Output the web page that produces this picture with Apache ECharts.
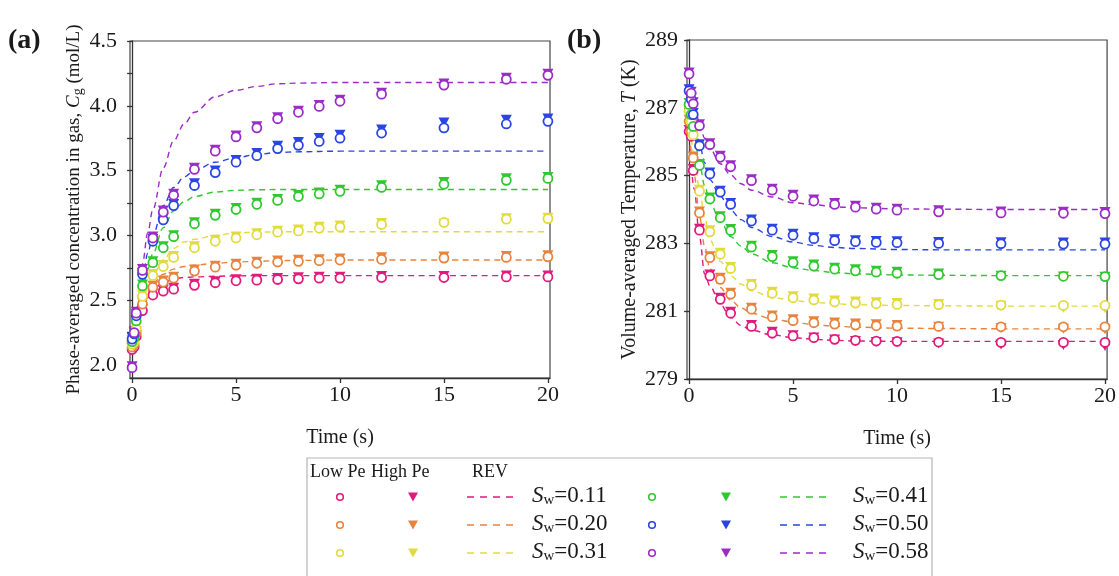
<!DOCTYPE html>
<html>
<head>
<meta charset="utf-8">
<script src="https://cdn.jsdelivr.net/npm/echarts@6/dist/echarts.min.js"></script>
<style>
html,body{margin:0;padding:0;background:#fff;}
#chart{width:1119px;height:576px;}
</style>
</head>
<body>
<div id="chart"></div>
<script>
// ---------------- DATA ----------------
const swLabels = ['0.11', '0.20', '0.31', '0.41', '0.50', '0.58'];
const colors = ['#e3197c', '#e8833d', '#e2db3e', '#30c830', '#2b45e4', '#9b2cc6'];

const timeSim = [0, 0.1, 0.2, 0.5, 1, 1.5, 2, 3, 4, 5, 6, 7, 8, 9, 10, 12, 15, 18, 20];
const timeRev = [0, 0.25, 0.5, 0.75, 1, 1.5, 2, 2.5, 3, 4, 5, 6, 7, 8, 10, 12, 15, 20];

// (a) concentration, Low Pe
const concLow011 = [2.12, 2.14, 2.22, 2.42, 2.54, 2.57, 2.585, 2.615, 2.635, 2.65, 2.655, 2.66, 2.665, 2.67, 2.67, 2.675, 2.675, 2.68, 2.68];
const concLow020 = [2.14, 2.16, 2.25, 2.47, 2.60, 2.64, 2.67, 2.725, 2.755, 2.77, 2.785, 2.795, 2.80, 2.805, 2.81, 2.815, 2.825, 2.83, 2.835];
const concLow031 = [2.16, 2.18, 2.28, 2.53, 2.69, 2.76, 2.83, 2.905, 2.955, 2.98, 3.005, 3.025, 3.035, 3.055, 3.065, 3.085, 3.10, 3.125, 3.13];
const concLow041 = [2.18, 2.21, 2.34, 2.61, 2.79, 2.905, 2.99, 3.09, 3.155, 3.20, 3.24, 3.27, 3.30, 3.32, 3.34, 3.37, 3.395, 3.425, 3.44];
const concLow050 = [2.20, 2.24, 2.38, 2.70, 2.955, 3.12, 3.23, 3.385, 3.485, 3.565, 3.615, 3.67, 3.695, 3.725, 3.75, 3.79, 3.83, 3.86, 3.88];
const concLow058 = [1.98, 2.25, 2.40, 2.73, 2.98, 3.18, 3.31, 3.51, 3.65, 3.76, 3.83, 3.90, 3.95, 3.995, 4.035, 4.09, 4.16, 4.205, 4.235];
// (a) concentration, High Pe
const concHigh011 = [2.12, 2.15, 2.22, 2.42, 2.54, 2.57, 2.585, 2.615, 2.635, 2.65, 2.655, 2.66, 2.665, 2.67, 2.67, 2.675, 2.675, 2.68, 2.68];
const concHigh020 = [2.14, 2.16, 2.25, 2.47, 2.60, 2.64, 2.67, 2.725, 2.755, 2.77, 2.785, 2.795, 2.80, 2.805, 2.81, 2.82, 2.825, 2.83, 2.835];
const concHigh031 = [2.16, 2.18, 2.28, 2.53, 2.69, 2.76, 2.83, 2.905, 2.955, 2.98, 3.005, 3.025, 3.035, 3.055, 3.065, 3.085, 3.08, 3.12, 3.125];
const concHigh041 = [2.18, 2.21, 2.34, 2.61, 2.79, 2.905, 2.99, 3.09, 3.155, 3.20, 3.24, 3.27, 3.30, 3.32, 3.34, 3.375, 3.40, 3.43, 3.44];
const concHigh050 = [2.20, 2.24, 2.38, 2.70, 2.96, 3.12, 3.23, 3.39, 3.49, 3.57, 3.625, 3.68, 3.71, 3.74, 3.765, 3.805, 3.86, 3.88, 3.89];
const concHigh058 = [1.98, 2.25, 2.40, 2.73, 2.98, 3.18, 3.31, 3.51, 3.65, 3.76, 3.83, 3.90, 3.95, 3.995, 4.035, 4.09, 4.16, 4.205, 4.235];
// (a) concentration, REV
const concRev011 = [2.10, 2.28, 2.42, 2.52, 2.58, 2.635, 2.665, 2.675, 2.68, 2.685, 2.688, 2.69, 2.69, 2.69, 2.69, 2.69, 2.69, 2.69];
const concRev020 = [2.10, 2.30, 2.45, 2.56, 2.63, 2.70, 2.74, 2.76, 2.77, 2.785, 2.795, 2.80, 2.805, 2.807, 2.81, 2.81, 2.81, 2.81];
const concRev031 = [2.10, 2.33, 2.50, 2.62, 2.70, 2.81, 2.90, 2.95, 2.97, 3.00, 3.02, 3.025, 3.028, 3.028, 3.028, 3.028, 3.028, 3.028];
const concRev041 = [2.10, 2.36, 2.58, 2.74, 2.86, 3.06, 3.19, 3.26, 3.30, 3.335, 3.348, 3.352, 3.354, 3.354, 3.354, 3.354, 3.354, 3.354];
const concRev050 = [2.10, 2.40, 2.66, 2.86, 3.00, 3.23, 3.37, 3.45, 3.50, 3.565, 3.60, 3.625, 3.64, 3.645, 3.65, 3.65, 3.65, 3.65];
const concRev058 = [2.10, 2.45, 2.78, 3.02, 3.20, 3.52, 3.73, 3.86, 3.95, 4.07, 4.12, 4.15, 4.17, 4.175, 4.18, 4.18, 4.18, 4.18];

// (b) temperature, Low Pe
const tempLow011 = [286.3, 286.16, 285.15, 283.39, 282.04, 281.35, 280.94, 280.55, 280.35, 280.27, 280.22, 280.17, 280.14, 280.12, 280.11, 280.09, 280.08, 280.08, 280.08];
const tempLow020 = [286.6, 286.3, 285.52, 283.90, 282.58, 281.94, 281.50, 281.06, 280.83, 280.72, 280.66, 280.62, 280.59, 280.57, 280.56, 280.55, 280.54, 280.54, 280.54];
const tempLow031 = [286.9, 286.6, 286.2, 284.54, 283.34, 282.68, 282.26, 281.76, 281.53, 281.40, 281.33, 281.27, 281.24, 281.22, 281.20, 281.19, 281.18, 281.17, 281.17];
const tempLow041 = [287.1, 286.8, 286.45, 285.30, 284.31, 283.76, 283.38, 282.89, 282.61, 282.43, 282.33, 282.24, 282.19, 282.15, 282.12, 282.08, 282.05, 282.03, 282.02];
const tempLow050 = [287.5, 287.25, 286.8, 285.88, 285.05, 284.51, 284.15, 283.66, 283.39, 283.24, 283.14, 283.08, 283.05, 283.03, 283.02, 283.00, 282.99, 282.98, 282.98];
const tempLow058 = [288.0, 287.43, 287.12, 286.47, 285.91, 285.54, 285.26, 284.85, 284.57, 284.39, 284.25, 284.15, 284.07, 284.01, 283.98, 283.93, 283.90, 283.89, 283.88];
// (b) temperature, High Pe
const tempHigh011 = [286.3, 286.16, 285.15, 283.39, 282.04, 281.35, 280.94, 280.55, 280.35, 280.25, 280.18, 280.12, 280.08, 280.05, 280.04, 280.00, 279.97, 279.96, 279.93];
const tempHigh020 = [286.6, 286.3, 285.52, 283.90, 282.58, 281.94, 281.50, 281.06, 280.83, 280.72, 280.66, 280.62, 280.59, 280.57, 280.55, 280.50, 280.46, 280.44, 280.42];
const tempHigh031 = [286.9, 286.6, 286.2, 284.54, 283.34, 282.68, 282.26, 281.76, 281.53, 281.40, 281.33, 281.27, 281.24, 281.22, 281.20, 281.17, 281.12, 281.06, 281.04];
const tempHigh041 = [287.1, 286.8, 286.45, 285.30, 284.31, 283.76, 283.38, 282.89, 282.61, 282.43, 282.33, 282.24, 282.19, 282.15, 282.12, 282.07, 282.00, 281.98, 281.97];
const tempHigh050 = [287.5, 287.25, 286.8, 285.88, 285.05, 284.51, 284.15, 283.66, 283.39, 283.24, 283.14, 283.08, 283.05, 283.03, 283.02, 283.00, 282.99, 282.98, 282.98];
const tempHigh058 = [288.0, 287.43, 287.12, 286.47, 285.91, 285.54, 285.26, 284.85, 284.57, 284.39, 284.25, 284.15, 284.07, 284.01, 283.98, 283.93, 283.90, 283.89, 283.88];
// (b) temperature, REV
const tempRev011 = [286.2, 284.6, 283.2, 282.1, 281.75, 281.2, 280.82, 280.58, 280.44, 280.30, 280.22, 280.17, 280.14, 280.12, 280.11, 280.11, 280.11, 280.11];
const tempRev020 = [286.5, 285.0, 283.8, 282.9, 282.25, 281.70, 281.32, 281.10, 280.94, 280.77, 280.68, 280.60, 280.56, 280.53, 280.50, 280.49, 280.48, 280.48];
const tempRev031 = [286.7, 285.6, 284.6, 283.75, 283.1, 282.47, 282.05, 281.80, 281.60, 281.41, 281.31, 281.26, 281.22, 281.19, 281.17, 281.16, 281.15, 281.15];
const tempRev041 = [287.0, 286.2, 285.35, 284.7, 284.2, 283.67, 283.20, 282.92, 282.69, 282.43, 282.28, 282.20, 282.14, 282.10, 282.07, 282.06, 282.05, 282.05];
const tempRev050 = [287.3, 286.6, 285.95, 285.38, 284.88, 284.39, 283.98, 283.70, 283.47, 283.20, 283.04, 282.94, 282.88, 282.85, 282.82, 282.81, 282.81, 282.81];
const tempRev058 = [287.7, 287.1, 286.55, 286.1, 285.8, 285.35, 285.02, 284.76, 284.57, 284.37, 284.20, 284.14, 284.08, 284.05, 284.02, 284.01, 284.00, 284.00];

// tick labels
const xTicks = [0, 5, 10, 15, 20];
const concTickLabels = [2.0, 2.5, 3.0, 3.5, 4.0, 4.5];
const concTickMarks = [2.0, 2.25, 2.5, 2.75, 3.0, 3.25, 3.5, 3.75, 4.0, 4.25, 4.5];

// ---------------- BUILD ----------------
const concLow = [concLow011, concLow020, concLow031, concLow041, concLow050, concLow058];
const concHigh = [concHigh011, concHigh020, concHigh031, concHigh041, concHigh050, concHigh058];
const concRev = [concRev011, concRev020, concRev031, concRev041, concRev050, concRev058];
const tempLow = [tempLow011, tempLow020, tempLow031, tempLow041, tempLow050, tempLow058];
const tempHigh = [tempHigh011, tempHigh020, tempHigh031, tempHigh041, tempHigh050, tempHigh058];
const tempRev = [tempRev011, tempRev020, tempRev031, tempRev041, tempRev050, tempRev058];

const FONT = "'Liberation Serif','Times New Roman',serif";
const AX = '#333';
const zip = (xs, ys) => xs.map((x, i) => [x, ys[i]]);

const series = [];
function addPanel(idx, low, high, rev) {
  for (let i = 0; i < 6; i++) {
    series.push({
      type: 'line', xAxisIndex: idx, yAxisIndex: idx, name: 'REV ' + swLabels[i],
      data: zip(timeRev, rev[i]), showSymbol: false, smooth: 0.35, smoothMonotone: 'x',
      lineStyle: {color: colors[i], width: 1.4, type: [6, 4.5]}, z: 2, silent: true
    });
  }
  for (let i = 0; i < 6; i++) {
    series.push({
      type: 'scatter', xAxisIndex: idx, yAxisIndex: idx, name: 'High Pe ' + swLabels[i],
      data: zip(timeSim, high[i]), symbol: 'triangle', symbolRotate: 180, symbolSize: [11, 10], symbolOffset: [0, -1.5],
      itemStyle: {color: colors[i], opacity: 1}, z: 3, clip: false, silent: true
    });
  }
  for (let i = 0; i < 6; i++) {
    series.push({
      type: 'scatter', xAxisIndex: idx, yAxisIndex: idx, name: 'Low Pe ' + swLabels[i],
      data: zip(timeSim, low[i]), symbol: 'circle', symbolSize: 9,
      itemStyle: {color: '#fff', borderColor: colors[i], borderWidth: 1.8, opacity: 1}, z: 4, clip: false, silent: true
    });
  }
}
addPanel(0, concLow, concHigh, concRev);
addPanel(1, tempLow, tempHigh, tempRev);

const labelStyle = {fontFamily: FONT, fontSize: 22, color: '#1a1a1a'};
function nameRich(fs) {
  return {
    n: {fontFamily: FONT, fontSize: fs, color: '#1a1a1a', lineHeight: 22},
    i: {fontFamily: FONT, fontSize: fs, fontStyle: 'italic', color: '#1a1a1a', lineHeight: 22},
    s: {fontFamily: FONT, fontSize: 14, color: '#1a1a1a', lineHeight: 14, verticalAlign: 'bottom'}
  };
}

function xAxisOf(gi) {
  return {
    gridIndex: gi, type: 'value', min: -0.1, max: 20.1,
    axisLine: {onZero: false, lineStyle: {color: AX, width: 1.3}},
    axisTick: {customValues: xTicks, length: 5, lineStyle: {color: AX, width: 1.3}},
    axisLabel: Object.assign({customValues: xTicks, margin: 6}, labelStyle),
    splitLine: {show: false},
    name: 'Time (s)', nameLocation: 'middle', nameGap: 50,
    nameTextStyle: {fontFamily: FONT, fontSize: 20, color: '#1a1a1a'}
  };
}

const option = {
  animation: false,
  backgroundColor: '#fff',
  grid: [
    {left: 130, top: 41, width: 420, height: 337, show: true, borderColor: '#444', borderWidth: 1.2, backgroundColor: 'transparent'},
    {left: 687, top: 40, width: 421, height: 339, show: true, borderColor: '#444', borderWidth: 1.2, backgroundColor: 'transparent'}
  ],
  xAxis: [xAxisOf(0), xAxisOf(1)],
  yAxis: [
    {
      gridIndex: 0, type: 'value', min: 1.9, max: 4.5,
      axisLine: {show: true, lineStyle: {color: AX, width: 1.3}},
      axisTick: {show: true, customValues: concTickMarks, length: 5, lineStyle: {color: AX, width: 1.3}},
      axisLabel: Object.assign({customValues: concTickLabels, margin: 13, formatter: v => Number(v).toFixed(1)}, labelStyle),
      splitLine: {show: false},
      name: '{n|Phase-averaged concentration in gas, }{i|C}{s|g}{n| (mol/L)}',
      nameLocation: 'middle', nameRotate: 90, nameGap: 45,
      nameTextStyle: {rich: nameRich(19)}
    },
    {
      gridIndex: 1, type: 'value', min: 279, max: 289, interval: 2,
      axisLine: {show: true, lineStyle: {color: AX, width: 1.3}},
      axisTick: {show: true, length: 5, lineStyle: {color: AX, width: 1.3}},
      axisLabel: Object.assign({margin: 9}, labelStyle),
      splitLine: {show: false},
      name: '{n|Volume-averaged Temperature, }{i|T}{n| (K)}',
      nameLocation: 'middle', nameRotate: 90, nameGap: 46,
      nameTextStyle: {rich: nameRich(20)}
    }
  ],
  series: series,
  graphic: buildGraphic()
};

function buildGraphic() {
  const els = [];
  const tc = '#1a1a1a';
  els.push({type: 'text', left: 8, top: 27, style: {text: '(a)', font: "bold 28px 'Liberation Serif'", fill: tc}});
  els.push({type: 'text', left: 567, top: 27, style: {text: '(b)', font: "bold 28px 'Liberation Serif'", fill: tc}});
  // legend box
  els.push({type: 'rect', shape: {x: 307, y: 458, width: 625, height: 140}, style: {fill: 'none', stroke: '#b5b5b5', lineWidth: 1.2}, z: 10});
  const header = [['Low Pe', 310], ['High Pe', 371], ['REV', 472]];
  header.forEach(h => els.push({type: 'text', x: h[1], y: 472, style: {text: h[0], font: "18px 'Liberation Serif'", fill: tc, textVerticalAlign: 'middle'}, z: 11}));
  const rowsY = [497, 525, 553];
  const groups = [{cx: 340, tx: 413, dx1: 467, dx2: 514, lx: 532}, {cx: 652, tx: 726, dx1: 780, dx2: 826, lx: 853}];
  for (let i = 0; i < 6; i++) {
    const g = groups[Math.floor(i / 3)];
    const y = rowsY[i % 3];
    els.push({type: 'circle', shape: {cx: g.cx, cy: y, r: 3.3}, style: {fill: '#fff', stroke: colors[i], lineWidth: 1.6}, z: 11});
    els.push({type: 'polygon', shape: {points: [[g.tx - 5, y - 4.5], [g.tx + 5, y - 4.5], [g.tx, y + 4.5]]}, style: {fill: colors[i]}, z: 11});
    els.push({type: 'line', shape: {x1: g.dx1, y1: y, x2: g.dx2, y2: y}, style: {stroke: colors[i], lineWidth: 1.4, lineDash: [7, 6]}, z: 11});
    els.push({type: 'text', x: g.lx, y: y - 14, style: {
      text: '{i|S}{s|w}{n|=' + swLabels[i] + '}',
      rich: {
        n: {fontFamily: FONT, fontSize: 23, fill: tc, lineHeight: 25},
        i: {fontFamily: FONT, fontSize: 23, fontStyle: 'italic', fill: tc, lineHeight: 25},
        s: {fontFamily: FONT, fontSize: 15, fill: tc, lineHeight: 15, verticalAlign: 'bottom'}
      }
    }, z: 11});
  }
  return els;
}

const chart = echarts.init(document.getElementById('chart'), null, {renderer: 'canvas'});
chart.setOption(option);
</script>
</body>
</html>
